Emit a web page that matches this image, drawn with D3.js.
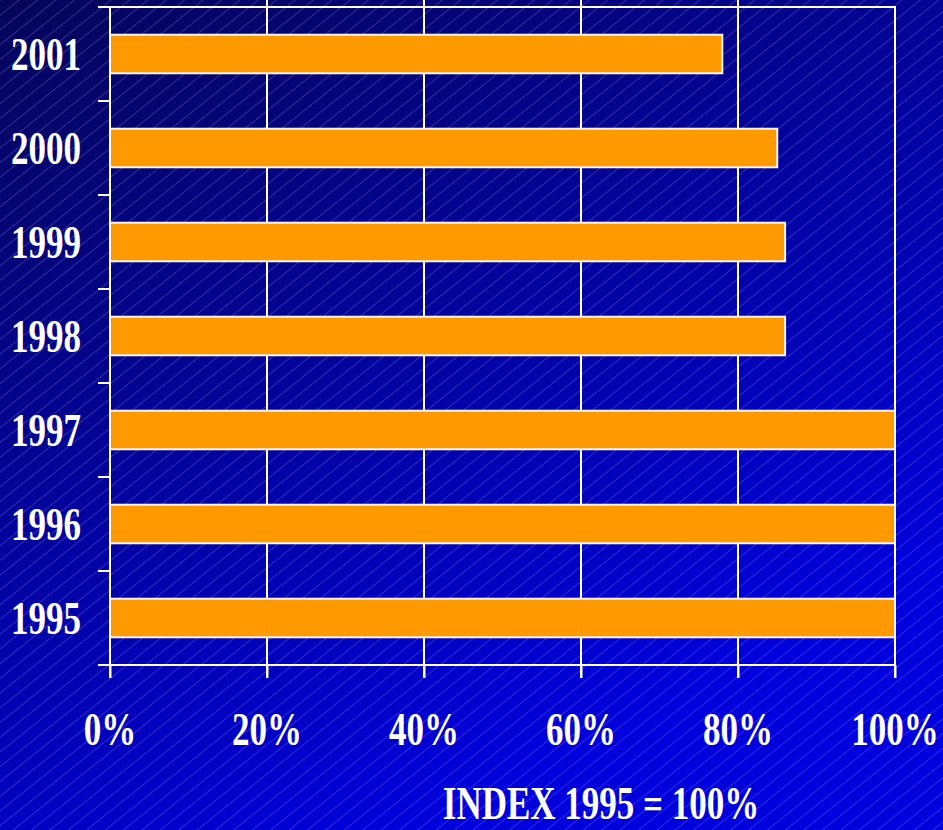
<!DOCTYPE html>
<html>
<head>
<meta charset="utf-8">
<script src="https://cdn.jsdelivr.net/npm/d3@7"></script>
<style>
  html, body { margin: 0; padding: 0; background: #000080; }
  svg { display: block; }
</style>
</head>
<body>
<script>
// Index values, 1995 = 100%
const years = ["1995", "1996", "1997", "1998", "1999", "2000", "2001"];
const indexValues = [100, 100, 100, 86, 86, 85, 78];
const xTickValues = [0, 20, 40, 60, 80, 100];
const footnote = "INDEX 1995 = 100%";

const W = 943, H = 830;
const plot = { left: 110, right: 895, top: 7, bottom: 665 };
const textStretch = 1.35;

const svg = d3.select("body").append("svg")
  .attr("width", W).attr("height", H);

const defs = svg.append("defs");

// Background gradient: deep navy top-left to bright blue bottom-right
const grad = defs.append("linearGradient")
  .attr("id", "bg").attr("gradientUnits", "userSpaceOnUse")
  .attr("x1", 0).attr("y1", 0).attr("x2", 420).attr("y2", H);
grad.append("stop").attr("offset", 0).attr("stop-color", "#05055a");
grad.append("stop").attr("offset", 0.5).attr("stop-color", "#03039a");
grad.append("stop").attr("offset", 1).attr("stop-color", "#0000dc");

// Fine diagonal hatching over the background
const hatch = defs.append("pattern")
  .attr("id", "hatch").attr("patternUnits", "userSpaceOnUse")
  .attr("width", 11.5).attr("height", 11.5)
  .attr("patternTransform", "rotate(51.3)");
hatch.append("line")
  .attr("x1", 0.5).attr("y1", 0).attr("x2", 0.5).attr("y2", 11.5)
  .attr("stroke", "#a8a8ff").attr("stroke-opacity", 0.32).attr("stroke-width", 0.8);

svg.append("rect").attr("width", W).attr("height", H).attr("fill", "url(#bg)");
svg.append("rect").attr("width", W).attr("height", H).attr("fill", "url(#hatch)");

// Scales
const x = d3.scaleLinear().domain([0, 100]).range([plot.left, plot.right]);
const y = d3.scaleBand().domain(years.slice().reverse())
  .range([plot.top, plot.bottom]).paddingInner(0.59).paddingOuter(0.295);

const white = "#ffffff";
const g = svg.append("g");

// Vertical gridlines
g.selectAll("line.grid").data(xTickValues.filter(v => v > 0 && v < 100)).join("line")
  .attr("class", "grid")
  .attr("x1", d => x(d)).attr("x2", d => x(d))
  .attr("y1", 0).attr("y2", plot.bottom + 13)
  .attr("stroke", white).attr("stroke-width", 2);

// Frame: right edge, top edge
g.append("line").attr("x1", x(100)).attr("x2", x(100))
  .attr("y1", plot.top).attr("y2", plot.bottom + 13)
  .attr("stroke", white).attr("stroke-width", 2);
g.append("line").attr("x1", plot.left - 12).attr("x2", x(100) + 1)
  .attr("y1", plot.top).attr("y2", plot.top)
  .attr("stroke", white).attr("stroke-width", 2);

// Bars
g.selectAll("rect.bar").data(years).join("rect")
  .attr("class", "bar")
  .attr("x", x(0))
  .attr("y", d => y(d))
  .attr("width", (d, i) => x(indexValues[i]) - x(0))
  .attr("height", y.bandwidth())
  .attr("fill", "#ff9900")
  .attr("stroke", "#f4f4f4").attr("stroke-width", 2);

// Left axis line and category boundary ticks
g.append("line").attr("x1", plot.left).attr("x2", plot.left)
  .attr("y1", plot.top).attr("y2", plot.bottom + 13)
  .attr("stroke", white).attr("stroke-width", 2);
const boundaries = d3.range(years.length + 1).map(i => plot.top + i * y.step());
g.selectAll("line.ytick").data(boundaries).join("line")
  .attr("class", "ytick")
  .attr("x1", plot.left - 12).attr("x2", plot.left)
  .attr("y1", d => d).attr("y2", d => d)
  .attr("stroke", white).attr("stroke-width", 2);

// Bottom axis with ticks
const xAxis = d3.axisBottom(x).tickValues(xTickValues).tickSize(13).tickFormat("");
const ax = g.append("g").attr("transform", `translate(0,${plot.bottom})`).call(xAxis);
ax.select(".domain").remove();
ax.selectAll(".tick line").attr("stroke", white).attr("stroke-width", 2);
g.append("line").attr("x1", plot.left - 12).attr("x2", x(100) + 1)
  .attr("y1", plot.bottom).attr("y2", plot.bottom)
  .attr("stroke", white).attr("stroke-width", 2);

// Text helper: bold serif, stretched vertically
const font = "'Liberation Serif', 'Times New Roman', serif";
function label(parent, tx, ty, str, anchor) {
  parent.append("g")
    .attr("transform", `translate(${tx},${ty}) scale(1,${textStretch})`)
    .append("text")
    .attr("text-anchor", anchor)
    .attr("font-family", font).attr("font-weight", "bold")
    .attr("font-size", 35).attr("fill", white)
    .text(str);
}

// Year labels
years.forEach(yr => {
  const cy = y(yr) + y.bandwidth() / 2;
  label(svg, 81, cy + 16, yr, "end");
});

// Percentage labels
xTickValues.forEach(v => {
  label(svg, x(v), 745, v + "%", "middle");
});

// Footnote
label(svg, 601, 819, footnote, "middle");
</script>
</body>
</html>
